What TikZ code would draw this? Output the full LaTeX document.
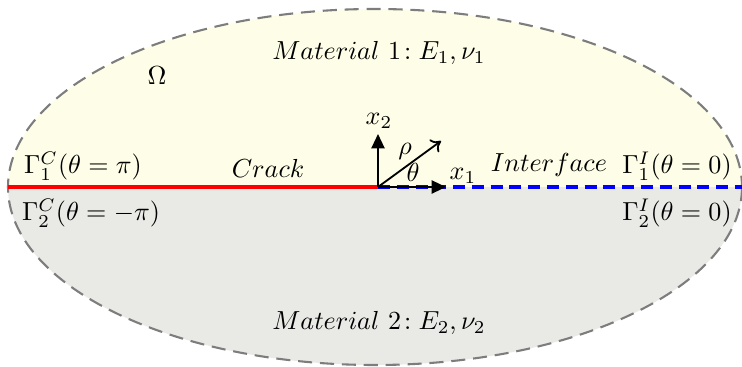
\documentclass[tikz,border=0pt]{standalone}
\usetikzlibrary{arrows.meta}
\definecolor{upfill}{RGB}{254,254,232}
\definecolor{lowfill}{RGB}{233,234,230}
\definecolor{rimgray}{RGB}{125,125,125}
\begin{document}
\begin{tikzpicture}[x=0.01348cm,y=-0.01348cm,
  rim/.style={draw=rimgray,line width=0.8pt,dash pattern=on 5.4pt off 3pt},
  crackline/.style={red,line width=1.2pt},
  ifaceline/.style={blue,line width=1.2pt,dash pattern=on 4.6pt off 2.6pt},
  axis/.style={-{Triangle[length=5.5pt,width=5pt]},line width=0.8pt},
  radius/.style={-{To[length=3.5pt,width=6pt]},line width=0.7pt},
  lbl/.style={inner sep=0pt}]
\useasboundingbox (0,0) rectangle (742,367);
% halves of the domain
\fill[lowfill] (8,187) arc[start angle=180,end angle=0,x radius=367,y radius=178] -- cycle;
\fill[upfill] (8,187) arc[start angle=180,end angle=360,x radius=367,y radius=178] -- cycle;
\draw[rim] (375,187) ellipse[x radius=367,y radius=178];
% crack and interface
\coordinate (L) at (8,187);
\coordinate (O) at (378,187);
\coordinate (R) at (742,187);
\draw[crackline] (L) -- (O);
\draw[ifaceline] (O) -- (R);
% axes
\coordinate (X1) at (446,187);
\coordinate (X2) at (378,134);
\coordinate (P) at (441,141);
\draw[axis] (O) -- (X1);
\draw[axis] (O) -- (X2);
\draw[radius] (O) -- (P);
\draw[line width=0.5pt] ([xshift=22]O) arc[start angle=0,end angle=-36,radius=22];
% labels
\node[lbl] (nx2) at (379,121) {$x_2$};
\node[lbl] (nx1) at (463,176) {$x_1$};
\node[lbl] (nrho) at (405,151) {$\rho$};
\node[lbl] (nth) at (413,172) {$\theta$};
\node[lbl] (crack) at (268,168) {$Crack$};
\node[lbl] (iface) at (549,165) {$Interface$};
\node[lbl] (g1i) at (677,166) {$\Gamma_1^I(\theta=0)$};
\node[lbl] (g2i) at (677,213) {$\Gamma_2^I(\theta=0)$};
\node[lbl] (g1c) at (83,166) {$\Gamma_1^C(\theta=\pi)$};
\node[lbl] (g2c) at (91,213) {$\Gamma_2^C(\theta=-\pi)$};
\node[lbl] (omega) at (157,76) {$\Omega$};
\node[lbl] (m1) at (379,53) {$Material\ 1\!:E_1,\nu_1$};
\node[lbl] (m2) at (379,323) {$Material\ 2\!:E_2,\nu_2$};
\end{tikzpicture}
\end{document}
